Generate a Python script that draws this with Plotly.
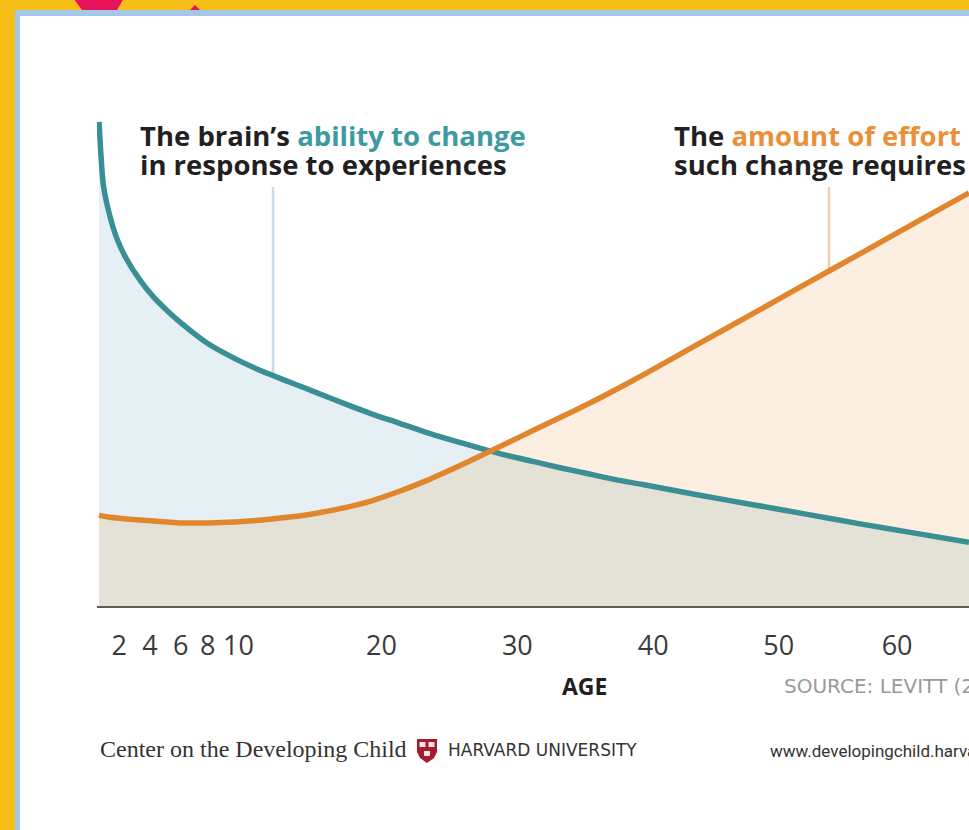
import numpy as np
import plotly.graph_objects as go

# ---------------- data ----------------
AGES = [0, 0.3, 0.7, 1.3, 2, 3, 4, 5, 6, 8, 10, 12, 14, 16, 18, 20, 22, 24,
        26, 28, 30, 32, 34, 36, 38, 40, 44, 48, 52, 56, 60, 64]
ABILITY = [99.6, 87.0, 81.3, 75.7, 71.5, 67.1, 63.6, 60.8, 58.3, 54.0, 50.9,
           48.3, 46.1, 43.9, 41.7, 39.6, 37.7, 35.8, 34.1, 32.5, 31.0, 29.7,
           28.4, 27.2, 26.0, 25.0, 22.9, 20.9, 18.9, 16.9, 15.0, 13.1]
EFFORT = [18.7, 18.5, 18.3, 18.1, 17.9, 17.7, 17.5, 17.3, 17.1, 17.1, 17.3,
          17.7, 18.3, 19.1, 20.2, 21.6, 23.5, 25.7, 28.2, 30.8, 33.5, 36.2,
          38.9, 41.6, 44.5, 47.5, 53.8, 60.0, 66.3, 72.5, 78.8, 85.0]
TICK_AGES = [2, 4, 6, 8, 10, 20, 30, 40, 50, 60]
TICK_LABELS = [str(t) for t in TICK_AGES]
LEADER_AGES = [12.8, 53.7]   # where the label leader lines meet the curves
LEADER_TOP = 86.2

# ---------------- geometry helpers ----------------
W, H = 969, 830
ML, MR, MT, MB = 97, 0, 60, 224
PW, PH = W - ML - MR, H - MT - MB


def pxx(x):
    return (x - ML) / PW


def pxy(y):
    return (H - MB - y) / PH


def path(points):
    s = "M " + " L ".join(f"{pxx(x):.5f},{pxy(y):.5f}" for x, y in points)
    return s + " Z"


# hand-set label nudges (in non-breaking spaces) to mimic the drawn tick layout
NUDGE = [-2, -1, 0, 0, 1, 3, 3, 3, 0, -5]
NB = "\u00a0"
tick_text = [(NB * n + t) if n > 0 else (t + NB * (-n)) for t, n in zip(TICK_LABELS, NUDGE)]

TEAL = "#3a8f95"
ORANGE = "#e0862c"
BLUE_FILL = "#e6f0f4"
PEACH_FILL = "#fdeee2"
OVERLAP_FILL = "#e4e2d6"

overlap = np.minimum(ABILITY, EFFORT)

fig = go.Figure()
common = dict(mode="lines", hoverinfo="skip", showlegend=False)
fig.add_trace(go.Scatter(x=AGES, y=ABILITY, fill="tozeroy", fillcolor=BLUE_FILL,
                         line=dict(width=0, shape="spline", smoothing=0.6), **common))
fig.add_trace(go.Scatter(x=AGES, y=EFFORT, fill="tozeroy", fillcolor=PEACH_FILL,
                         line=dict(width=0, shape="spline", smoothing=0.6), **common))
fig.add_trace(go.Scatter(x=AGES, y=overlap, fill="tozeroy", fillcolor=OVERLAP_FILL,
                         line=dict(width=0, shape="spline", smoothing=0.6), **common))
fig.add_trace(go.Scatter(x=AGES, y=ABILITY,
                         line=dict(width=5.5, color=TEAL, shape="spline", smoothing=0.6), **common))
fig.add_trace(go.Scatter(x=AGES, y=EFFORT,
                         line=dict(width=5.5, color=ORANGE, shape="spline", smoothing=0.6), **common))

shapes = []
# frame: yellow page, blue border, white panel, pink blob
shapes.append(dict(type="path", xref="paper", yref="paper", layer="below",
                   path=path([(15, 10), (1100, 10), (1100, 900), (15, 900)]),
                   fillcolor="#a3c6e9", line=dict(width=0)))
shapes.append(dict(type="path", xref="paper", yref="paper", layer="below",
                   path=path([(20, 16), (1100, 16), (1100, 900), (20, 900)]),
                   fillcolor="white", line=dict(width=0)))
shapes.append(dict(type="path", xref="paper", yref="paper", layer="below",
                   path=path([(73, -2), (124, -2), (117, 10), (82, 10)]),
                   fillcolor="#e6135a", line=dict(width=0)))
shapes.append(dict(type="path", xref="paper", yref="paper", layer="below",
                   path=path([(190, 10), (195, 5), (200, 10)]),
                   fillcolor="#e6135a", line=dict(width=0)))

# leader lines
teal_end = float(np.interp(LEADER_AGES[0], AGES, ABILITY))
orange_end = float(np.interp(LEADER_AGES[1], AGES, EFFORT))
shapes.append(dict(type="line", xref="x", yref="y", layer="below",
                   x0=LEADER_AGES[0], x1=LEADER_AGES[0], y0=teal_end, y1=LEADER_TOP,
                   line=dict(color="#c9dce6", width=2.5)))
shapes.append(dict(type="line", xref="x", yref="y", layer="below",
                   x0=LEADER_AGES[1], x1=LEADER_AGES[1], y0=orange_end, y1=LEADER_TOP,
                   line=dict(color="#f7cda8", width=2.5)))

# Harvard shield
shapes.append(dict(type="path", xref="paper", yref="paper", layer="above",
                   path=path([(417, 739), (437, 739), (437, 752), (434, 758),
                              (427, 763), (420, 758), (417, 752)]),
                   fillcolor="#a51c30", line=dict(width=0)))
for (x0, y0) in [(419.5, 742), (428.5, 742), (424, 751)]:
    shapes.append(dict(type="path", xref="paper", yref="paper", layer="above",
                       path=path([(x0, y0), (x0 + 6, y0), (x0 + 6, y0 + 5), (x0, y0 + 5)]),
                       fillcolor="#f3e3e3", line=dict(width=0)))

annotations = []


def ann(text, x, y, size, color, family, xanchor="left", weight=400):
    annotations.append(dict(text=text, x=pxx(x), y=pxy(y), xref="paper", yref="paper",
                            xanchor=xanchor, yanchor="middle", showarrow=False,
                            align="left",
                            font=dict(size=size, color=color, family=family, weight=weight)))


TXT = "#231f20"
ann("The brain’s <span style='color:#3d9aa1'>ability to change</span>", 138, 136,
    27.5, TXT, "Open Sans", weight=700)
ann("in response to experiences", 138, 164, 27.5, TXT, "Open Sans", weight=700)
ann("The <span style='color:#e8903a'>amount of effort</span>", 672, 136,
    27.5, TXT, "Open Sans", weight=700)
ann("such change requires", 672, 164, 27.5, TXT, "Open Sans", weight=700)

ann("AGE", 584, 686, 23, "#231f20", "Open Sans", xanchor="center", weight=700)
ann("SOURCE: LEVITT (2009)", 782, 686, 20, "#9a9a9a", "DejaVu Sans")

ann("Center on the Developing Child", 98, 749, 24, "#333333", "Liberation Serif")
ann("HARVARD UNIVERSITY", 446, 750, 17, "#333333", "DejaVu Sans")
ann("www.developingchild.harvard.edu", 768, 751, 17, "#333333", "Roboto")

fig.update_layout(
    width=W, height=H, autosize=False,
    margin=dict(l=ML, r=MR, t=MT, b=MB, pad=0),
    paper_bgcolor="#f6be17",
    plot_bgcolor="rgba(0,0,0,0)",
    shapes=shapes,
    annotations=annotations,
    showlegend=False,
    xaxis=dict(range=[-0.15, 64], tickvals=TICK_AGES, ticktext=tick_text,
               tickangle=0,
               showline=True, linecolor="#5b5b5b", linewidth=2,
               showgrid=False, zeroline=False, ticks="",
               ticklabelstandoff=15,
               tickfont=dict(size=27, family="Open Sans", color="#3a3a3a")),
    yaxis=dict(range=[0, 112.35], visible=False, showgrid=False, zeroline=False),
)

fig.write_html("out.html",
               config={"displayModeBar": False, "staticPlot": True},
               post_script="document.body.style.margin='0px';"
                           "document.body.style.overflow='hidden';")
